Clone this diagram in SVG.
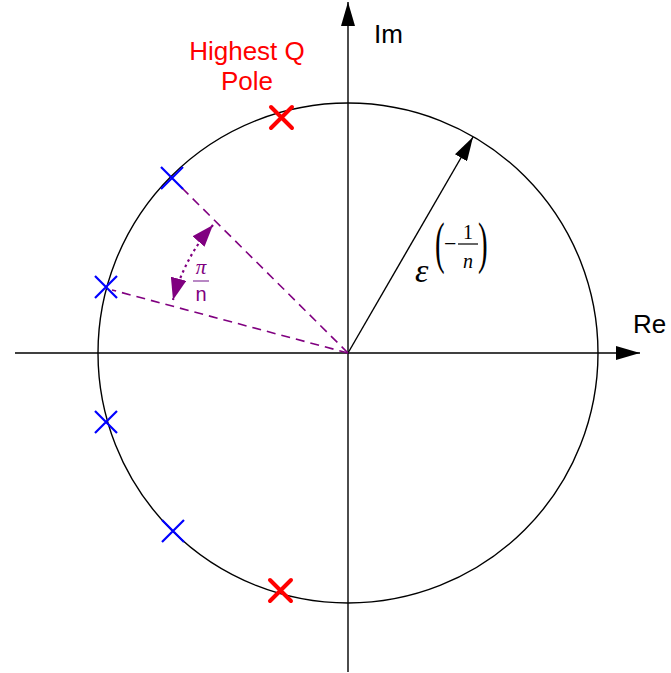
<svg xmlns="http://www.w3.org/2000/svg" width="671" height="673" viewBox="0 0 671 673">
<style>
.lbl{font-family:"Liberation Sans",Arial,sans-serif;font-size:26px}
.math{font-family:"Liberation Serif","Times New Roman",serif;font-style:italic}
.blue{stroke:#0000ff;stroke-width:2.2;fill:none}
.red{stroke:#ff0000;stroke-width:4;fill:none;stroke-linecap:round}
.dash{stroke:#800080;stroke-width:1.6;stroke-dasharray:9,6;fill:none}
</style>
<defs>
<marker id="ahBig" markerWidth="24" markerHeight="14" refX="24" refY="7" orient="auto" markerUnits="userSpaceOnUse" viewBox="0 0 24 14"><path d="M0,0 L24,7 L0,14 Z" fill="#000"/></marker>
<marker id="pah" markerWidth="22" markerHeight="16" refX="22" refY="8" orient="auto" markerUnits="userSpaceOnUse" viewBox="0 0 22 16"><path d="M0,0 L22,8 L0,16 Z" fill="#800080"/></marker>
<marker id="pahs" markerWidth="22" markerHeight="16" refX="0" refY="8" orient="auto" markerUnits="userSpaceOnUse" viewBox="0 0 22 16"><path d="M22,0 L0,8 L22,16 Z" fill="#800080"/></marker>
</defs>
<g id="connectors">
<circle cx="348" cy="353" r="250" fill="none" stroke="#000" stroke-width="1.4"/>
<line x1="15" y1="353" x2="640" y2="353" stroke="#000" stroke-width="1.4" marker-end="url(#ahBig)"/>
<line x1="348" y1="672" x2="348" y2="2" stroke="#000" stroke-width="1.4" marker-end="url(#ahBig)"/>
<line x1="348" y1="353" x2="473" y2="137" stroke="#000" stroke-width="1.4" marker-end="url(#ahBig)"/>
<line class="dash" x1="348" y1="353" x2="180" y2="186"/>
<line class="dash" x1="348" y1="353" x2="112" y2="290"/>
<path d="M213,225 A185,185 0 0 0 173,300" stroke="#800080" stroke-width="2.2" stroke-dasharray="2.5,3.5" fill="none" marker-start="url(#pahs)" marker-end="url(#pah)"/>
</g>
<g id="pole-red-top"><path class="red" d="M271,107 L292,128 M292,107 L271,128"/></g>
<g id="pole-blue-1"><path class="blue" d="M161,167 L183,189 M183,167 L161,189"/></g>
<g id="pole-blue-2"><path class="blue" d="M95,276 L117,298 M117,276 L95,298"/></g>
<g id="pole-blue-3"><path class="blue" d="M95,411 L117,433 M117,411 L95,433"/></g>
<g id="pole-blue-4"><path class="blue" d="M162,520 L184,542 M184,520 L162,542"/></g>
<g id="pole-red-bottom"><path class="red" d="M270,580 L291,601 M291,580 L270,601"/></g>
<g id="label-highest-q">
<text class="lbl" x="247" y="60" fill="#ff0000" text-anchor="middle">Highest Q</text>
<text class="lbl" x="247" y="90" fill="#ff0000" text-anchor="middle">Pole</text>
</g>
<g id="label-im"><text class="lbl" x="374" y="43">Im</text></g>
<g id="label-re"><text class="lbl" x="633" y="333">Re</text></g>
<g id="label-pin" fill="#800080">
<text class="math" x="201" y="274" font-size="21" text-anchor="middle">π</text>
<line x1="193" y1="281" x2="209" y2="281" stroke="#a060b0" stroke-width="1.5"/>
<text x="201" y="301" font-family="Liberation Sans,Arial,sans-serif" font-size="20" text-anchor="middle">n</text>
</g>
<g id="label-eps" font-family="Liberation Serif,Times New Roman,serif">
<text class="math" x="415" y="282" font-size="34">ε</text>
<text font-size="34" transform="translate(435,262) scale(0.85,1.7)">(</text>
<text x="444" y="251" font-size="22">−</text>
<line x1="458" y1="244" x2="478" y2="244" stroke="#000" stroke-width="1.2"/>
<text x="468" y="239" font-size="20" text-anchor="middle">1</text>
<text class="math" x="468" y="268" font-size="20" text-anchor="middle">n</text>
<text font-size="34" transform="translate(478,262) scale(0.85,1.7)">)</text>
</g>
</svg>
